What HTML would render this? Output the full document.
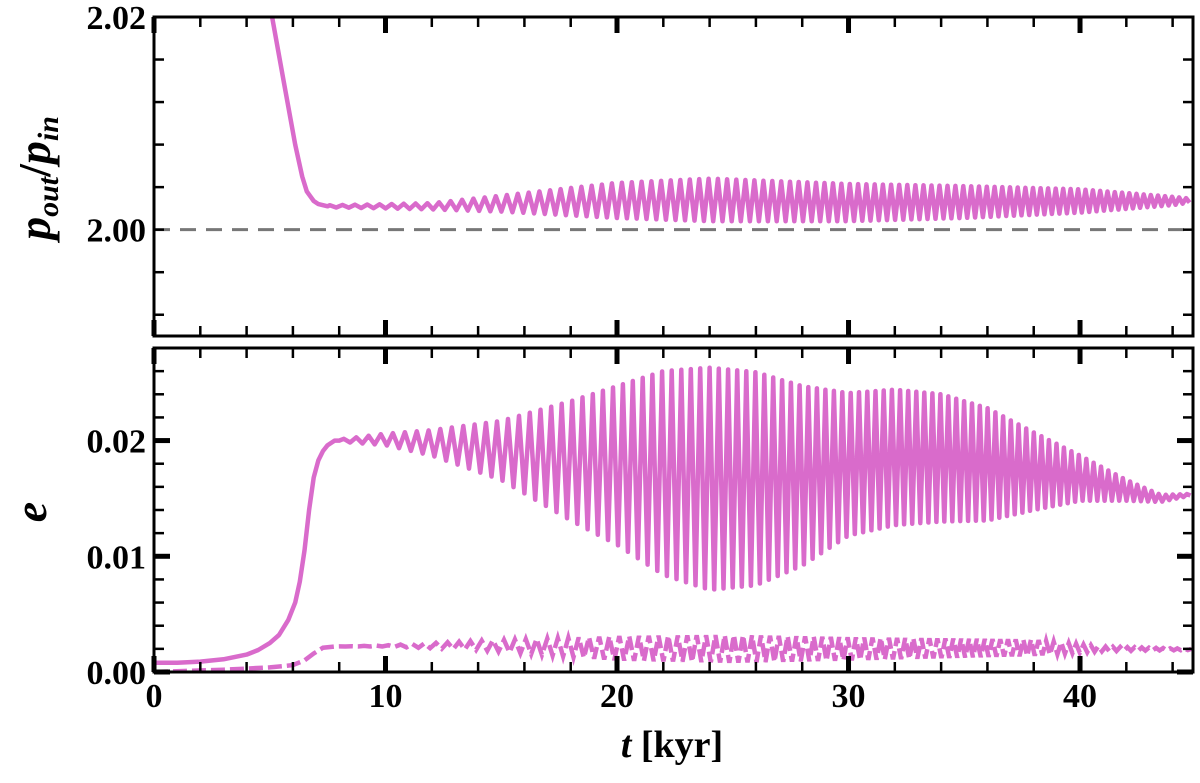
<!DOCTYPE html>
<html><head><meta charset="utf-8"><style>
html,body{margin:0;padding:0;background:#fff;}
svg{display:block;}
text{font-family:"Liberation Serif",serif;font-weight:bold;fill:#000;}
</style></head><body>
<svg id="chart" width="1200" height="783" viewBox="0 0 1200 783" xmlns="http://www.w3.org/2000/svg" style="position:absolute;left:0;top:0">
<g id="gtop"></g>
<g id="gbot"></g>
<text x="672" y="757" text-anchor="middle" font-size="38"><tspan font-style="italic">t</tspan> [kyr]</text>
<text transform="translate(50,178) rotate(-90)" text-anchor="middle" font-size="46" font-style="italic">p<tspan font-size="30" dy="8">out</tspan><tspan dy="-8" font-style="normal">/</tspan>p<tspan font-size="30" dy="8">in</tspan></text>
<text transform="translate(46,512) rotate(-90)" text-anchor="middle" font-size="46" font-style="italic">e</text>
</svg>
<script>
// ---- data ----
const xTicks = [0,10,20,30,40];
const topYTicks = [2.00,2.02];
const botYTicks = [0.00,0.01,0.02];
const periodT = [7,20,30,45];
const periodV = [0.55,0.43,0.36,0.30];
const ratioDecayT = [0,5.1,5.6,6.1,6.4,6.6,6.8,6.9,7.1,7.3,7.5];
const ratioDecayV = [2.05,2.02,2.0140,2.0080,2.0050,2.0036,2.0030,2.0027,2.0024,2.0023,2.0022];
const ratioEnvT = [7.5,10,12,15,20,24,30,35,40,44,44.9];
const ratioUpper = [2.0023,2.0024,2.0025,2.0032,2.0044,2.0048,2.0043,2.0041,2.0038,2.0031,2.0029];
const ratioLower = [2.0021,2.0020,2.0019,2.0017,2.0011,2.0008,2.0008,2.0011,2.0016,2.0023,2.0026];
const eRiseT = [0,1,2,3,4,4.5,5,5.4,5.8,6.1,6.3,6.5,6.7,6.9,7.1,7.3,7.5,7.8,8];
const eRiseV = [0.0008,0.0008,0.0009,0.0011,0.0015,0.0019,0.0025,0.0032,0.0045,0.0060,0.0078,0.0105,0.0140,0.0168,0.0183,0.0191,0.0196,0.0200,0.0200];
const eEnvT = [8,10,12,15,18,20,22,24,26,28,30,32,34,36,38,40,42,43.5,44.9];
const eUpper = [0.0201,0.0206,0.0209,0.0217,0.0234,0.0247,0.0260,0.0263,0.0259,0.0247,0.0241,0.0244,0.0240,0.0228,0.0207,0.0187,0.0166,0.0153,0.0154];
const eLower = [0.0199,0.0196,0.0187,0.0166,0.0131,0.0110,0.0084,0.0071,0.0075,0.0092,0.0118,0.0127,0.0130,0.0131,0.0140,0.0148,0.0148,0.0147,0.0153];
const dRiseT = [0,3,5,6.0,6.5,6.9,7.3,7.8];
const dRiseV = [0.0000,0.0002,0.0004,0.0006,0.0010,0.0016,0.0021,0.0022];
const dEnvT = [7.8,10,14,20,25,30,38,41,44.9];
const dUpper = [0.0022,0.0023,0.0027,0.0031,0.0032,0.0030,0.0028,0.0022,0.0020];
const dLower = [0.0022,0.0022,0.0019,0.0010,0.0008,0.0010,0.0014,0.0018,0.0019];

// ---- layout ----
const L=154,R=1193,XMAX=44.88;
const TT=17,TB=336,BT=348,BB=672;
const X=t=>L+t/XMAX*(R-L);
const YT=v=>TB-(v-1.99)/0.03*(TB-TT);
const YB=v=>BB-v/0.028*(BB-BT);
const NS="http://www.w3.org/2000/svg";
function mk(tag,parent,attrs){const e=document.createElementNS(NS,tag);for(const k in attrs)e.setAttribute(k,attrs[k]);parent.appendChild(e);return e;}
function interp(xs,ys,x){if(x<=xs[0])return ys[0];for(let i=1;i<xs.length;i++){if(x<=xs[i]){const f=(x-xs[i-1])/(xs[i]-xs[i-1]);return ys[i-1]+f*(ys[i]-ys[i-1]);}}return ys[ys.length-1];}
function osc(envT,up,lo,t0,t1){const pts=[];let t=t0,k=0;while(t<=t1){pts.push([t,(k%2?interp(envT,lo,t):interp(envT,up,t))]);t+=interp(periodT,periodV,t)/2;k++;}return pts;}
function path(pts,Y){return pts.map((p,i)=>(i?'L':'M')+X(p[0]).toFixed(1)+','+Y(p[1]).toFixed(1)).join('');}

const gTop=document.getElementById('gtop'), gBot=document.getElementById('gbot');
const C="#d96bcb";

const defs=mk('defs',document.getElementById('chart'),{});
const c1=mk('clipPath',defs,{id:'ct'});mk('rect',c1,{x:L,y:TT,width:R-L,height:TB-TT});
const c2=mk('clipPath',defs,{id:'cb'});mk('rect',c2,{x:L,y:BT,width:R-L,height:BB-BT});

const ref=mk('line',gTop,{x1:L,x2:R,y1:YT(2.0),y2:YT(2.0),stroke:'#777','stroke-width':3,'stroke-dasharray':'16,10'});


const topPts=ratioDecayT.map((t,i)=>[t,ratioDecayV[i]]).concat(osc(ratioEnvT,ratioUpper,ratioLower,7.6,XMAX));
const tl=mk('path',gTop,{d:path(topPts,YT),fill:'none',stroke:C,'stroke-width':4.5,'stroke-linejoin':'round','clip-path':'url(#ct)'});



const ePts=eRiseT.map((t,i)=>[t,eRiseV[i]]).concat(osc(eEnvT,eUpper,eLower,8.2,XMAX));
const el=mk('path',gBot,{d:path(ePts,YB),fill:'none',stroke:C,'stroke-width':4.5,'stroke-linejoin':'round','clip-path':'url(#cb)'});


const dPts=dRiseT.map((t,i)=>[t,dRiseV[i]]).concat(osc(dEnvT,dUpper,dLower,8.0,XMAX));
const dl=mk('path',gBot,{d:path(dPts,YB),fill:'none',stroke:C,'stroke-width':4.5,'stroke-dasharray':'14,5','clip-path':'url(#cb)'});



function frame(g,T,B,yMinorVals,yMajorVals,Y,yLabels,fmt){
  const f=mk('rect',g,{x:L,y:T,width:R-L,height:B-T,fill:'none',stroke:'#000','stroke-width':3});
  
  
  for(let t=0;t<=XMAX;t+=2){const maj=t%10===0;const len=maj?16:10;const w=maj?5:2.5;
    mk('line',g,{x1:X(t),x2:X(t),y1:B,y2:B-len,stroke:'#000','stroke-width':w});
    mk('line',g,{x1:X(t),x2:X(t),y1:T,y2:T+len,stroke:'#000','stroke-width':w});}
  yMinorVals.forEach(v=>{mk('line',g,{x1:L,x2:L+10,y1:Y(v),y2:Y(v),stroke:'#000','stroke-width':2.5});mk('line',g,{x1:R,x2:R-10,y1:Y(v),y2:Y(v),stroke:'#000','stroke-width':2.5});});
  yMajorVals.forEach(v=>{mk('line',g,{x1:L,x2:L+16,y1:Y(v),y2:Y(v),stroke:'#000','stroke-width':5});mk('line',g,{x1:R,x2:R-16,y1:Y(v),y2:Y(v),stroke:'#000','stroke-width':5});});
  yLabels.forEach(v=>{const tx=mk('text',g,{x:L-8,y:Y(v)+12,'text-anchor':'end','font-size':34});tx.textContent=fmt(v);
    
    });
}
const topMinor=[];for(let v=1.992;v<2.0201;v+=0.004)topMinor.push(+v.toFixed(3));
frame(gTop,TT,TB,topMinor,[],YT,topYTicks,v=>v.toFixed(2));
const botMinor=[];for(let v=0.002;v<0.028;v+=0.002)botMinor.push(+v.toFixed(3));
frame(gBot,BT,BB,botMinor,botYTicks,YB,botYTicks,v=>v.toFixed(2));
xTicks.forEach(t=>{const tx=mk('text',gBot,{x:X(t),y:707,'text-anchor':'middle','font-size':34});tx.textContent=String(t);
  
  });
</script>
</body></html>
